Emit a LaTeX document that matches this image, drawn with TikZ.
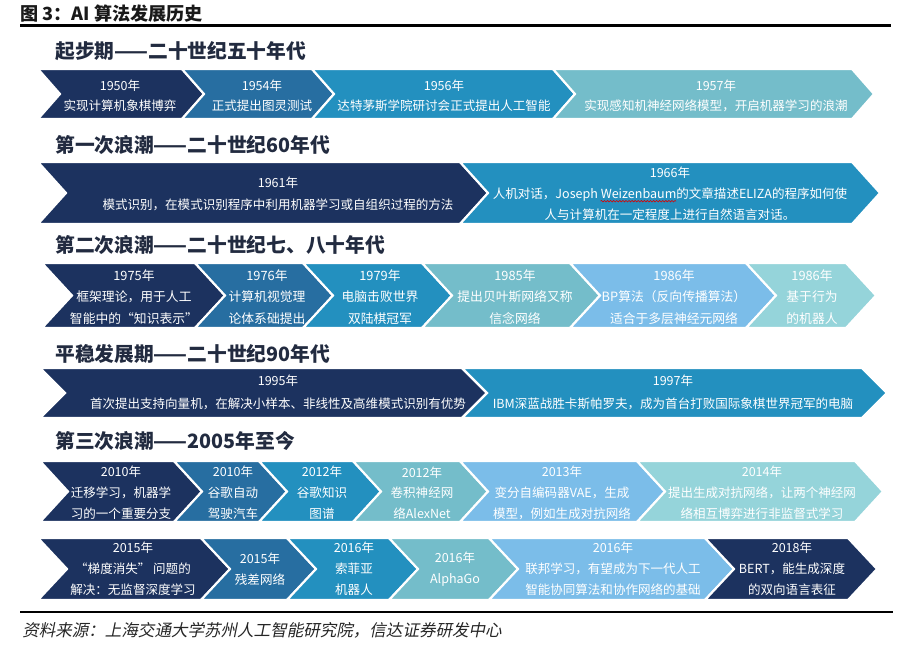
\documentclass[tikz,border=0pt]{standalone}
\usepackage{fontspec}
\usetikzlibrary{decorations.pathmorphing}
\newfontfamily\cjk{Noto Sans CJK SC}
\newfontfamily\cjksl[FakeSlant=0.2]{Noto Sans CJK SC}
\definecolor{cNavy}{HTML}{1C325F}
\definecolor{cMid}{HTML}{276EA1}
\definecolor{cBright}{HTML}{2390BF}
\definecolor{cTeal}{HTML}{74BDCA}
\definecolor{cSky}{HTML}{7BBDE9}
\definecolor{cLight}{HTML}{95D4DA}
\definecolor{cHead}{HTML}{222B40}
\newsavebox\wzbox
\newcommand\redwave[1]{\sbox\wzbox{#1}\usebox\wzbox\llap{\tikz[baseline=0pt]\draw[red!85!black, line width=0.45pt, decorate, decoration={snake, amplitude=0.55pt, segment length=2.3pt}] (0pt,-2.2pt) -- (\wd\wzbox,-2.2pt);}}
\newcommand\chevshape[6]{%
  \filldraw[fill=#6, draw=white, line width=1.6pt, line join=miter]
  (#1,#3) -- (#2,#3) -- ({#2+#5},{(#3+#4)/2}) -- (#2,#4) -- (#1,#4)
  -- ({#1+#5},{(#3+#4)/2}) -- cycle;}
\tikzset{
  txt/.style={text=white, align=center, inner sep=0pt,
    font=\cjk\fontsize{9.4}{15.6}\selectfont},
  txtA/.style={txt, font=\cjk\fontsize{9.4}{15}\selectfont},
  txtD/.style={txt, font=\cjk\fontsize{9.4}{17.2}\selectfont},
  head/.style={anchor=west, inner sep=0pt, text=cHead,
    font=\cjk\bfseries\fontsize{14.8}{16}\selectfont},
}
\begin{document}
\begin{tikzpicture}[x=0.75pt, y=-0.75pt]
\useasboundingbox[fill=white] (0,0) rectangle (915,656);

% title and rules
\node[anchor=west, inner sep=0pt, font=\cjk\bfseries\fontsize{13.6}{15}\selectfont, text=black!90] (title) at (20,14) {图 3：AI 算法发展历史};
\draw[line width=1.6pt, black] (20,25.5) -- (891,25.5);
\draw[line width=1.6pt, black] (20,612) -- (893,612);
\node[anchor=west, inner sep=0pt, font=\cjksl\fontsize{12.4}{14}\selectfont, text=black!85] (src) at (22,630) {资料来源：上海交通大学苏州人工智能研究院，信达证券研发中心};

% row 1
\node[head] (h1) at (55,51) {起步期——二十世纪五十年代};
\chevshape{38}{182}{69}{119}{22}{cNavy}
\chevshape{182}{312}{69}{119}{22}{cMid}
\chevshape{312}{553}{69}{119}{22}{cBright}
\chevshape{553}{852}{69}{119}{22}{cTeal}
\node[txtA] (t11) at (120,95.5) {1950年\\实现计算机象棋博弈};
\node[txtA] (t12) at (262,95.5) {1954年\\正式提出图灵测试};
\node[txtA] (t13) at (444,95.5) {1956年\\达特茅斯学院研讨会正式提出人工智能};
\node[txtA] (t14) at (716,95.5) {1957年\\实现感知机神经网络模型，开启机器学习的浪潮};

% row 2
\node[head] (h2) at (55,145) {第一次浪潮——二十世纪60年代};
\chevshape{38}{460}{162}{224}{28}{cNavy}
\chevshape{460}{852}{162}{224}{28}{cBright}
\node[txt, font=\cjk\fontsize{9.4}{16.5}\selectfont] (t21) at (278,194) {1961年\\模式识别，在模式识别程序中利用机器学习或自组织过程的方法};
\node[txt] (t22) at (670,193.5) {1966年\\人机对话，Joseph \redwave{Weizenbaum}的文章描述ELIZA的程序如何使\\人与计算机在一定程度上进行自然语言对话。};

% row 3
\node[head] (h3) at (55,245) {第二次浪潮——二十世纪七、八十年代};
\chevshape{42}{195}{263}{328}{30}{cNavy}
\chevshape{195}{303}{263}{328}{30}{cMid}
\chevshape{303}{422}{263}{328}{30}{cBright}
\chevshape{422}{570}{263}{328}{30}{cTeal}
\chevshape{570}{746}{263}{328}{30}{cSky}
\chevshape{746}{846}{263}{328}{30}{cLight}
\node[txt, font=\cjk\fontsize{9.6}{16.2}\selectfont] (t31) at (134,297) {1975年\\框架理论，用于人工\\智能中的“知识表示”};
\node[txt, font=\cjk\fontsize{9.6}{16.2}\selectfont] (t32) at (267,297) {1976年\\计算机视觉理\\论体系础提出};
\node[txt, font=\cjk\fontsize{9.6}{16.2}\selectfont] (t33) at (380,297) {1979年\\电脑击败世界\\双陆棋冠军};
\node[txt, font=\cjk\fontsize{9.6}{16.2}\selectfont] (t34) at (515,297) {1985年\\提出贝叶斯网络又称\\信念网络};
\node[txt, font=\cjk\fontsize{9.6}{16.2}\selectfont] (t35) at (674,297) {1986年\\BP算法（反向传播算法）\\适合于多层神经元网络};
\node[txt, font=\cjk\fontsize{9.6}{16.2}\selectfont] (t36) at (812,297) {1986年\\基于行为\\的机器人};

% row 4
\node[head] (h4) at (55,354) {平稳发展期——二十世纪90年代};
\chevshape{40}{462}{368}{418}{25}{cNavy}
\chevshape{462}{862}{368}{418}{25}{cBright}
\node[txtD] (t41) at (278,392.5) {1995年\\首次提出支持向量机，在解决小样本、非线性及高维模式识别有优势};
\node[txtD] (t42) at (673,392.5) {1997年\\IBM深蓝战胜卡斯帕罗夫，成为首台打败国际象棋世界冠军的电脑};

% row 5
\node[head] (h5) at (55,441) {第三次浪潮——2005年至今};
\chevshape{40}{174}{461}{522}{28}{cNavy}
\chevshape{174}{259}{461}{522}{28}{cMid}
\chevshape{259}{353}{461}{522}{28}{cBright}
\chevshape{353}{460}{461}{522}{28}{cTeal}
\chevshape{460}{637}{461}{522}{28}{cSky}
\chevshape{637}{855}{461}{522}{28}{cLight}
\node[txt] (t51) at (121,493) {2010年\\迁移学习，机器学\\习的一个重要分支};
\node[txt] (t52) at (233,493) {2010年\\谷歌自动\\驾驶汽车};
\node[txt] (t53) at (322,493) {2012年\\谷歌知识\\图谱};
\node[txt] (t54) at (422,493) {2012年\\卷积神经网\\络AlexNet};
\node[txt] (t55) at (562,493) {2013年\\变分自编码器VAE，生成\\模型，例如生成对抗网络};
\node[txt] (t56) at (762,493) {2014年\\提出生成对抗网络，让两个神经网\\络相互博弈进行非监督式学习};

% row 6
\chevshape{38}{201}{538}{600}{29}{cNavy}
\chevshape{201}{287}{538}{600}{29}{cMid}
\chevshape{287}{389}{538}{600}{29}{cBright}
\chevshape{389}{489}{538}{600}{29}{cTeal}
\chevshape{489}{705}{538}{600}{29}{cSky}
\chevshape{705}{848}{538}{600}{29}{cNavy}
\node[txt] (t61) at (133,569) {2015年\\“梯度消失” 问题的\\解决：无监督深度学习};
\node[txt] (t62) at (260,569.5) {2015年\\残差网络};
\node[txt] (t63) at (354,569) {2016年\\索菲亚\\机器人};
\node[txt] (t64) at (455,569.5) {2016年\\AlphaGo};
\node[txt] (t65) at (613,569) {2016年\\联邦学习，有望成为下一代人工\\智能协同算法和协作网络的基础};
\node[txt] (t66) at (792,569) {2018年\\BERT，能生成深度\\的双向语言表征};
\end{tikzpicture}
\end{document}
